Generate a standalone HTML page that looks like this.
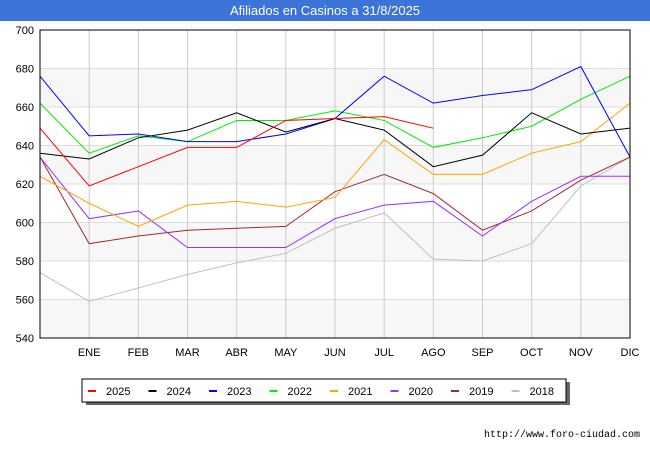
<!DOCTYPE html>
<html><head><meta charset="utf-8"><style>
body{margin:0;width:650px;height:450px;background:#fff;font-family:"Liberation Sans",sans-serif;overflow:hidden}
</style></head><body>
<svg width="650" height="450">
<rect x="0" y="0" width="650" height="21" fill="#3b73d9"/>
<text x="325" y="15" text-anchor="middle" font-size="13" fill="#fff">Afiliados en Casinos a 31/8/2025</text>
<g id="plot"></g>
<rect x="86" y="382" width="484" height="23" fill="#666"/>
<rect x="82" y="379" width="484" height="23" fill="#fff" stroke="#000"/>
<g id="legend"></g>
<text x="640" y="437" text-anchor="end" font-size="10" fill="#000" font-family="Liberation Mono, monospace">http://www.foro-ciudad.com</text>
</svg>
<script>
const months=["","ENE","FEB","MAR","ABR","MAY","JUN","JUL","AGO","SEP","OCT","NOV","DIC"];
const yTicks=[540,560,580,600,620,640,660,680,700];
const seriesNames=["2025","2024","2023","2022","2021","2020","2019","2018"];
const seriesColors=["#ff0000","#000000","#0000ff","#00ee00","#ffa500","#9b30ff","#a52a2a","#c0c0c0"];
const s2025=[649,619,629,639,639,653,654,655,649];
const s2024=[636,633,644,648,657,647,654,648,629,635,657,646,649];
const s2023=[676,645,646,642,642,646,654,676,662,666,669,681,634];
const s2022=[662,636,645,642,653,653,658,653,639,644,650,664,676];
const s2021=[624,610,598,609,611,608,613,643,625,625,636,642,662];
const s2020=[634,602,606,587,587,587,602,609,611,593,611,624,624];
const s2019=[634,589,593,596,597,598,616,625,615,596,606,622,634];
const s2018=[574,559,566,573,579,584,597,605,581,580,589,619,634];
const allSeries=[s2025,s2024,s2023,s2022,s2021,s2020,s2019,s2018];
const NS="http://www.w3.org/2000/svg";
const L=40,R=630,T=30,B=338;
const x=i=>L+i*(R-L)/12;
const y=v=>B-(v-540)*(B-T)/160;
const g=document.getElementById('plot');
function mk(t,a,p){const e=document.createElementNS(NS,t);for(const k in a)e.setAttribute(k,a[k]);(p||g).appendChild(e);return e;}
for(let i=0;i<yTicks.length-1;i++){
  if(i%2==0){const r=mk('rect',{x:L,y:y(yTicks[i+1]),width:R-L,height:y(yTicks[i])-y(yTicks[i+1]),fill:'#f7f7f7'});
  
  }
}
yTicks.forEach(v=>{
  const l=mk('line',{x1:L,x2:R,y1:y(v),y2:y(v),stroke:'#ddd'});
  
  
  const t=mk('text',{x:L-6,y:y(v)+4,'text-anchor':'end','font-size':11,fill:'#000'});t.textContent=v;
  
  
});
months.forEach((m,i)=>{
  if(i>0){const l=mk('line',{x1:x(i),x2:x(i),y1:T,y2:B,stroke:'#ccc'});
  
  
  const t=mk('text',{x:x(i),y:356,'text-anchor':'middle','font-size':11,fill:'#000'});t.textContent=m;
  
  }
});
for(let s=allSeries.length-1;s>=0;s--){
  const p=mk('polyline',{points:allSeries[s].map((v,i)=>x(i)+','+y(v)).join(' '),fill:'none',stroke:seriesColors[s],'stroke-width':1});
  
  
}
const fr=mk('rect',{x:L,y:T,width:R-L,height:B-T,fill:'none',stroke:'#000'});


const lg=document.getElementById('legend');
seriesNames.forEach((n,i)=>{
  const lx=88+i*60.5;
  const ln=mk('line',{x1:lx,x2:lx+8,y1:391,y2:391,stroke:seriesColors[i],'stroke-width':2},lg);
  
  
  const t=mk('text',{x:lx+18,y:395,'font-size':11,fill:'#000'},lg);t.textContent=n;
  
  
});
</script>
</body></html>
